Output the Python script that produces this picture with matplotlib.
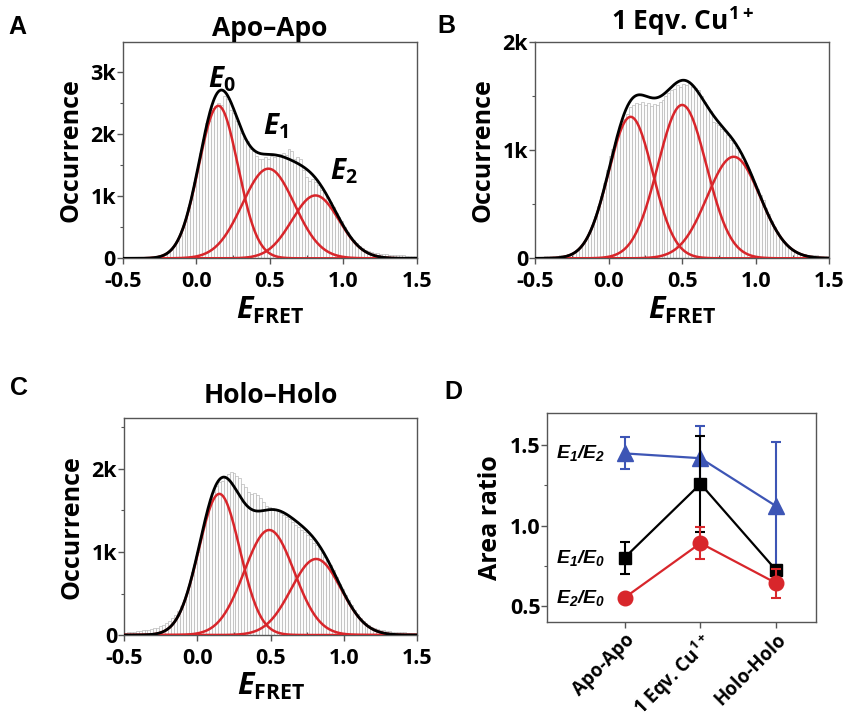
"""
smFRET histograms (Apo-Apo, 1 Eqv. Cu1+, Holo-Holo) with 3-Gaussian fits,
plus the fitted area ratios. Saves out.png.
"""
import numpy as np
import matplotlib
matplotlib.use("Agg")
import matplotlib.pyplot as plt
from matplotlib.ticker import MultipleLocator, FuncFormatter

FONT = "Open Sans"
plt.rcParams["font.family"] = [FONT, "DejaVu Sans"]
plt.rcParams["font.weight"] = "bold"
plt.rcParams["mathtext.fontset"] = "custom"
plt.rcParams["mathtext.it"] = f"{FONT}:italic:bold"
plt.rcParams["mathtext.rm"] = f"{FONT}:bold"
plt.rcParams["mathtext.bf"] = f"{FONT}:bold"
plt.rcParams["mathtext.sf"] = "Liberation Sans:italic:bold"

# ---------------------------------------------------------------------------
# Data — histograms (bin width 0.02, bins from -0.5 to 1.5)
# ---------------------------------------------------------------------------

BIN_START = -0.5
BIN_WIDTH = 0.02

counts_apo = [
    4, 6, 5, 8, 7, 10, 9, 12, 14, 15, 18, 22,
    30, 42, 58, 95, 130, 190, 275, 360, 500, 620, 820, 990, 1230,
    1440, 1700, 1920, 2180, 2210, 2420, 2440, 2500, 2460, 2600, 2560, 2380, 2340, 2200, 2150,
    2020, 1920, 1880, 1760, 1720, 1640, 1600, 1590, 1620, 1600, 1640, 1620, 1650, 1680, 1700,
    1660, 1750, 1720, 1600, 1620, 1590, 1420, 1300, 1250, 1270, 1230, 1180, 1100, 1060, 980,
    900, 820, 730, 660, 600, 500, 420, 350, 300, 250, 200, 170, 140, 120, 100,
    90, 80, 75, 70, 65, 60, 60, 55, 55, 50, 50, 45, 40, 35, 30,
]

counts_cu = [
    10, 12, 15, 18, 20, 22, 25, 25, 28, 30, 35, 40,
    50, 62, 80, 105, 140, 180, 240, 310, 390, 480, 580, 700, 820,
    950, 1010, 1080, 1150, 1220, 1290, 1340, 1400, 1420, 1440, 1430, 1450, 1420, 1440, 1410,
    1430, 1420, 1450, 1470, 1500, 1530, 1560, 1570, 1600, 1590, 1610, 1600, 1620, 1590, 1580,
    1560, 1500, 1450, 1400, 1360, 1260, 1250, 1230, 1200, 1180, 1140, 1100, 1070, 1020, 980,
    930, 880, 830, 760, 700, 640, 590, 540, 470, 410, 350, 290, 240, 190, 150,
    120, 95, 75, 60, 50, 42, 38, 35, 32, 30, 28, 25, 22, 20, 18,
]

counts_holo = [
    30, 35, 40, 42, 45, 50, 55, 58, 62, 70, 80, 90,
    105, 120, 140, 165, 200, 240, 290, 350, 420, 520, 640, 760, 880,
    1000, 1180, 1330, 1480, 1600, 1720, 1800, 1840, 1860, 1900, 1940, 1960, 1950, 1920, 1890,
    1820, 1780, 1720, 1700, 1710, 1690, 1650, 1600, 1560, 1540, 1530, 1520, 1490, 1470, 1440,
    1420, 1400, 1360, 1320, 1300, 1260, 1240, 1200, 1160, 1110, 1080, 1040, 990, 940, 900,
    840, 780, 700, 620, 550, 480, 420, 360, 300, 250, 210, 170, 140, 115, 95,
    80, 70, 62, 55, 50, 45, 42, 40, 38, 35, 32, 30, 28, 25, 22,
]

# Gaussian fit components E0, E1, E2: centre, amplitude, width
fit_apo_mu = [0.15, 0.49, 0.81]
fit_apo_amp = [2450, 1440, 1010]
fit_apo_sig = [0.133, 0.177, 0.16]

fit_cu_mu = [0.15, 0.50, 0.85]
fit_cu_amp = [1310, 1420, 940]
fit_cu_sig = [0.15, 0.165, 0.18]

fit_holo_mu = [0.15, 0.49, 0.81]
fit_holo_amp = [1700, 1265, 916]
fit_holo_sig = [0.14, 0.17, 0.17]

# ---------------------------------------------------------------------------
# Data — area ratios (panel D)
# ---------------------------------------------------------------------------

conditions = ["Apo-Apo", "1 Eqv. Cu$^{1+}$", "Holo-Holo"]
ratio_e1_e2 = [1.45, 1.42, 1.12]
err_e1_e2 = [0.10, 0.20, 0.40]
ratio_e1_e0 = [0.80, 1.26, 0.72]
err_e1_e0 = [0.10, 0.30, 0.02]
ratio_e2_e0 = [0.55, 0.89, 0.64]
err_e2_e0 = [0.01, 0.10, 0.09]

# ---------------------------------------------------------------------------
# Style
# ---------------------------------------------------------------------------

RED = "#d8262b"
BLUE = "#3d55b5"
BAR_EDGE = "#b3b3b3"
SPINE = "#555555"


def gauss(x, mu, amp, sig):
    return amp * np.exp(-(x - mu) ** 2 / (2 * sig ** 2))


def kfmt(v, pos):
    return "0" if v == 0 else f"{v / 1000:g}k"


def style_axes(ax):
    for s in ax.spines.values():
        s.set_color(SPINE)
        s.set_linewidth(1.0)
    ax.tick_params(which="major", direction="out", length=4, width=1,
                   color=SPINE, labelsize=15.5, pad=1)
    ax.tick_params(which="minor", direction="out", length=2.5, width=0.8, color=SPINE)


def hist_panel(ax, counts, mus, amps, sigs, title, ymax, title_pad):
    counts = np.asarray(counts)
    centers = BIN_START + BIN_WIDTH * (np.arange(len(counts)) + 0.5)
    ax.bar(centers, counts, width=BIN_WIDTH, facecolor="#fcfcfc",
           edgecolor=BAR_EDGE, linewidth=0.45, zorder=1)
    xs = np.linspace(-0.5, 1.5, 500)
    total = np.zeros_like(xs)
    for mu, amp, sig in zip(mus, amps, sigs):
        g = gauss(xs, mu, amp, sig)
        total += g
        ax.plot(xs, g, color=RED, lw=1.8, zorder=3)
    ax.plot(xs, total, color="black", lw=2.0, zorder=4)

    ax.set_xlim(-0.5, 1.5)
    ax.set_ylim(0, ymax)
    ax.xaxis.set_major_locator(MultipleLocator(0.5))
    ax.xaxis.set_minor_locator(MultipleLocator(0.25))
    ax.xaxis.set_major_formatter(FuncFormatter(lambda v, p: f"{v:.1f}"))
    ax.yaxis.set_major_locator(MultipleLocator(1000))
    ax.yaxis.set_minor_locator(MultipleLocator(500))
    ax.yaxis.set_major_formatter(FuncFormatter(kfmt))
    style_axes(ax)
    ax.tick_params(axis="x", which="major", pad=5)
    ax.tick_params(axis="x", which="minor", direction="in")
    ax.set_title(title, fontsize=19, fontweight="bold", pad=title_pad)
    ax.set_ylabel("Occurrence", fontsize=18, fontweight="bold", labelpad=5)
    ax.set_xlabel(r"$E_{\mathrm{FRET}}$", fontsize=22, labelpad=2)


fig = plt.figure(figsize=(8.47, 7.24), dpi=100)

axA = fig.add_axes([0.1449, 0.6432, 0.3474, 0.2992])
axB = fig.add_axes([0.6316, 0.6432, 0.3475, 0.2984])
axC = fig.add_axes([0.1464, 0.1229, 0.3463, 0.2993])
axD = fig.add_axes([0.6462, 0.1413, 0.3169, 0.2878])

hist_panel(axA, counts_apo, fit_apo_mu, fit_apo_amp, fit_apo_sig,
           "Apo\u2013Apo", 3480, 4)
hist_panel(axB, counts_cu, fit_cu_mu, fit_cu_amp, fit_cu_sig,
           "1 Eqv. Cu$^{1+}$", 2000, 9)
hist_panel(axC, counts_holo, fit_holo_mu, fit_holo_amp, fit_holo_sig,
           "Holo\u2013Holo", 2610, 11)

# peak labels in panel A
for lbl, xy in [(r"$E_0$", (0.17, 2870)), (r"$E_1$", (0.54, 2120)), (r"$E_2$", (1.0, 1400))]:
    axA.text(xy[0], xy[1], lbl, fontsize=20, ha="center", va="center", zorder=5)

# ---------------------------------------------------------------------------
# Panel D
# ---------------------------------------------------------------------------

xpos = np.arange(len(conditions))
eb = dict(capsize=3.5, elinewidth=1.5, capthick=1.5, lw=1.6)
axD.errorbar(xpos, ratio_e1_e2, yerr=err_e1_e2, color=BLUE, marker="^",
             markersize=11, zorder=3, **eb)
axD.errorbar(xpos, ratio_e1_e0, yerr=err_e1_e0, color="black", marker="s",
             markersize=9, zorder=4, **eb)
axD.errorbar(xpos, ratio_e2_e0, yerr=err_e2_e0, color=RED, marker="o",
             markersize=10.5, zorder=5, **eb)

for lbl, yv in [(r"$\mathsf{E_1/E_2}$", ratio_e1_e2[0]),
                (r"$\mathsf{E_1/E_0}$", ratio_e1_e0[0]),
                (r"$\mathsf{E_2/E_0}$", ratio_e2_e0[0])]:
    axD.text(-0.58, yv, lbl, fontsize=14, ha="center", va="center")

axD.set_xlim(-1.02, 2.52)
axD.set_ylim(0.40, 1.70)
axD.set_xticks(xpos)
axD.set_xticklabels(conditions, rotation=45, ha="right", rotation_mode="anchor",
                    fontsize=13.5, fontweight="bold")
axD.yaxis.set_major_locator(MultipleLocator(0.5))
axD.yaxis.set_minor_locator(MultipleLocator(0.25))
axD.yaxis.set_major_formatter(FuncFormatter(lambda v, p: f"{v:.1f}"))
style_axes(axD)
axD.tick_params(axis="x", labelsize=13.5, pad=2)
axD.set_ylabel("Area ratio", fontsize=18, fontweight="bold", labelpad=5)

# panel letters
for letter, (fx, fy) in zip("ABCD", [(0.021, 0.963), (0.527, 0.964),
                                     (0.022, 0.464), (0.535, 0.459)]):
    fig.text(fx, fy, letter, fontsize=18, fontweight="bold",
             family="Liberation Sans", ha="center", va="center")

fig.savefig("out.png", dpi=100)
